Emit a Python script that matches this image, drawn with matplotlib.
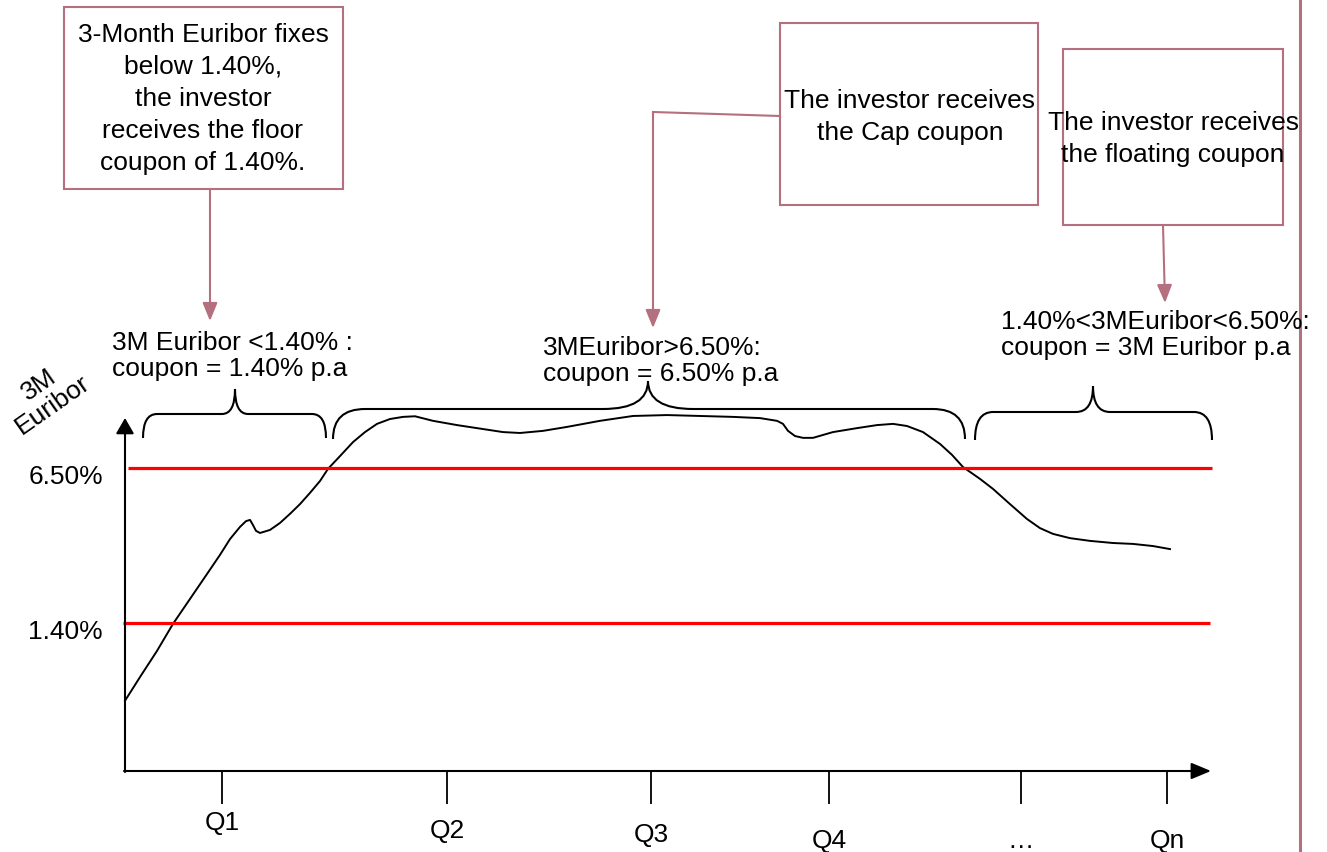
import matplotlib
matplotlib.use("Agg")
import matplotlib.pyplot as plt
from matplotlib.path import Path
from matplotlib.patches import PathPatch, Rectangle

plt.rcParams['font.family'] = ['Liberation Sans', 'DejaVu Sans']

# 3M Euribor path (time position, rate in %)
x_time = [125, 140, 157, 173, 190, 207, 220, 230, 240, 246, 250, 253, 256, 260,
          270, 280, 290, 300, 310, 320, 328, 340, 353, 365, 377, 390, 403, 415,
          433, 457, 483, 503, 520, 543, 567, 600, 633, 667, 700, 733, 760, 777,
          783, 788, 795, 803, 813, 833, 857, 877, 893, 907, 923, 940, 952, 963,
          980, 993, 1010, 1027, 1040, 1053, 1070, 1090, 1113, 1133, 1153, 1170]
euribor = [-1.16, -0.38, 0.48, 1.37, 2.19, 3.01, 3.64, 4.16, 4.56, 4.75, 4.79,
           4.62, 4.43, 4.36, 4.46, 4.69, 4.99, 5.31, 5.68, 6.07, 6.47, 6.89,
           7.35, 7.68, 7.95, 8.11, 8.18, 8.20, 8.05, 7.91, 7.78, 7.68, 7.65,
           7.72, 7.85, 8.05, 8.21, 8.24, 8.21, 8.18, 8.14, 8.05, 7.95, 7.72,
           7.55, 7.49, 7.49, 7.68, 7.81, 7.91, 7.95, 7.88, 7.68, 7.29, 6.93,
           6.53, 6.14, 5.81, 5.31, 4.82, 4.52, 4.33, 4.19, 4.10, 4.03, 4.00,
           3.93, 3.83]

# floor and cap levels
levels = [6.50, 1.40]
level_labels = ['6.50%', '1.40%']

# quarters on the time axis
tick_x = [222, 447, 651, 829, 1021, 1167]
tick_labels = ['Q1', 'Q2', 'Q3', 'Q4', '\u2026', 'Qn']

box_texts = ['3-Month Euribor fixes\nbelow 1.40%,\nthe investor\nreceives the floor\ncoupon of 1.40%.',
             'The investor receives\nthe Cap coupon',
             'The investor receives\nthe floating coupon']
zone_texts = ['3M Euribor <1.40% :\ncoupon = 1.40% p.a',
              '3MEuribor>6.50%:\ncoupon = 6.50% p.a',
              '1.40%<3MEuribor<6.50%:\ncoupon = 3M Euribor p.a']

rose = '#b4707e'
FS = 19

fig = plt.figure(figsize=(13.27, 8.53), dpi=100)
fig.patch.set_facecolor('white')

# chart axes: x = time, y = rate in %
ax = fig.add_axes([0, 0, 1, 1])
ax.set_xlim(0, 1327)
ax.set_ylim(-6.137, 21.93)
ax.axis('off')

# overlay axes in pixel units for the call-outs
ov = fig.add_axes([0, 0, 1, 1])
ov.set_xlim(0, 1327)
ov.set_ylim(853, 0)
ov.axis('off')

ax.plot(x_time, euribor, color='black', lw=1.4, solid_joinstyle='round')
ax.hlines(levels[0], 128, 1212, color='#ff0000', lw=2.3)
ax.hlines(levels[1], 123, 1210, color='#ff0000', lw=2.3)

# level labels just under each line
for lv, lab in zip(levels, level_labels):
    ax.annotate(lab, xy=(103, lv), xytext=(0, -8), textcoords='offset pixels',
                ha='right', va='center', fontsize=FS)

# axes with arrows
ov.annotate('', xy=(125, 419), xytext=(125, 773),
            arrowprops=dict(arrowstyle='-|>,head_length=0.95,head_width=0.55',
                            color='black', lw=1.5, mutation_scale=10,
                            shrinkA=0, shrinkB=0))
ov.annotate('', xy=(1211, 772), xytext=(124, 772),
            arrowprops=dict(arrowstyle='-|>,head_length=1.2,head_width=0.5',
                            color='black', lw=1.5, mutation_scale=10,
                            shrinkA=0, shrinkB=0))
ov.vlines(tick_x, 772, 805, color='black', lw=1.3)
tick_base = [830, 838, 842, 848, 848, 848]
for tx, lab, ty in zip(tick_x, tick_labels, tick_base):
    ov.text(tx, ty, lab, ha='center', va='baseline', fontsize=FS)

ov.text(46, 395, '3M\nEuribor', rotation=35, ha='center', va='center',
        fontsize=FS, multialignment='center', linespacing=1.05)


def brace(x0, x1, xc, y_end, y_flat, y_peak, r_end, r_mid):
    verts = [(x0, y_end), (x0, y_flat), (x0 + r_end, y_flat),
             (xc - r_mid, y_flat), (xc, y_flat), (xc, y_peak),
             (xc, y_flat), (xc + r_mid, y_flat),
             (x1 - r_end, y_flat), (x1, y_flat), (x1, y_end)]
    codes = [Path.MOVETO, Path.CURVE3, Path.CURVE3, Path.LINETO,
             Path.CURVE3, Path.CURVE3, Path.CURVE3, Path.CURVE3,
             Path.LINETO, Path.CURVE3, Path.CURVE3]
    ov.add_patch(PathPatch(Path(verts, codes), fill=False, ec='black', lw=1.5))


brace(143, 326, 235, 439, 415, 390, 14, 13)
brace(333, 965, 648, 440, 410, 382, 32, 45)
brace(975, 1212, 1093, 441, 413, 387, 18, 17)

# zone texts
ov.text(112, 356, zone_texts[0], ha='left', va='center', fontsize=FS, linespacing=1.08)
ov.text(543, 361, zone_texts[1], ha='left', va='center', fontsize=FS, linespacing=1.08)
ov.text(1001, 335, zone_texts[2], ha='left', va='center', fontsize=FS, linespacing=1.08)

# call-out boxes
for (x0, y0, x1, y1) in [(64, 8, 343, 190), (780, 24, 1038, 206), (1063, 50, 1283, 226)]:
    ov.add_patch(Rectangle((x0, y0), x1 - x0, y1 - y0, fill=False, ec=rose, lw=1.5))
ov.text(203, 99, box_texts[0], ha='center', va='center', fontsize=FS,
        multialignment='center', linespacing=1.43)
ov.text(910, 117, box_texts[1], ha='center', va='center', fontsize=FS,
        multialignment='center', linespacing=1.43)
ov.text(1173, 139, box_texts[2], ha='center', va='center', fontsize=FS,
        multialignment='center', linespacing=1.43)

arrow_kw = dict(arrowstyle='-|>,head_length=1.1,head_width=0.45', color=rose,
                lw=1.5, mutation_scale=10, shrinkA=0, shrinkB=0)
ov.annotate('', xy=(210, 322), xytext=(210, 190), arrowprops=arrow_kw)
ov.plot([780, 653], [117, 113], color=rose, lw=1.5)
ov.annotate('', xy=(653, 329), xytext=(653, 113), arrowprops=arrow_kw)
ov.annotate('', xy=(1165, 304), xytext=(1163, 226), arrowprops=arrow_kw)

ov.axvline(1300, color=rose, lw=2.2)

fig.savefig('out.png', dpi=100, facecolor='white')
